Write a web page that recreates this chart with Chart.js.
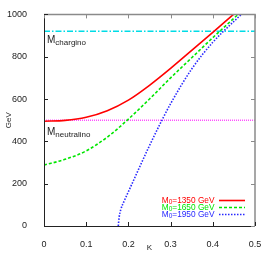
<!DOCTYPE html>
<html>
<head>
<meta charset="utf-8">
<script src="https://cdn.jsdelivr.net/npm/chart.js@4.4.0/dist/chart.umd.min.js"></script>
<style>
  html, body { margin: 0; padding: 0; background: #fff; }
  #wrap { width: 270px; height: 253px; }
</style>
</head>
<body>
<div id="wrap"><canvas id="myChart"></canvas></div>
<script>
// K values and masses (GeV)
var K_1350 = [0, 0.05, 0.1, 0.15, 0.2, 0.25, 0.3, 0.35, 0.4, 0.449];
var M_1350 = [495, 499, 514, 545, 595, 665, 745, 830, 915, 1000];

var K_1650 = [0, 0.05, 0.1, 0.15, 0.2, 0.25, 0.3, 0.35, 0.4, 0.46];
var M_1650 = [288, 315, 355, 420, 505, 600, 700, 795, 890, 1000];

var K_1950 = [0.176, 0.178, 0.182, 0.19, 0.2, 0.22, 0.25, 0.28, 0.3, 0.35, 0.4, 0.45, 0.468];
var M_1950 = [0, 40, 78, 118, 162, 250, 380, 502, 578, 742, 868, 967, 1000];

var M0_VALUES = [1350, 1650, 1950];

var M_CHARGINO = 920;
var M_NEUTRALINO = 500;

var X_TICKS = [0, 0.1, 0.2, 0.3, 0.4, 0.5];
var Y_TICKS = [0, 200, 400, 600, 800, 1000];

var TICK_FONT = "'Liberation Sans Narrow', 'Liberation Sans', Arial, sans-serif";
var TEXT_FONT = "'Liberation Sans', Arial, sans-serif";

function pts(xs, ys) {
    var out = [];
    for (var i = 0; i < xs.length; i++) {
        out.push({x: xs[i], y: ys[i]});
    }
    return out;
}

function flat(v) {
    return [{x: X_TICKS[0], y: v}, {x: X_TICKS[X_TICKS.length - 1], y: v}];
}

// text like M_sub followed by rest, with subscript
function subText(ctx, x, y, sub, rest, size, subSize, drop, color, alignRight) {
    ctx.fillStyle = color;
    ctx.textBaseline = 'alphabetic';
    ctx.textAlign = 'left';
    ctx.font = size + 'px ' + TEXT_FONT;
    var wM = ctx.measureText('M').width;
    var wRest = ctx.measureText(rest).width;
    ctx.font = subSize + 'px ' + TEXT_FONT;
    var wSub = ctx.measureText(sub).width;
    var x0 = alignRight ? x - (wM + wSub + wRest) : x;
    ctx.font = size + 'px ' + TEXT_FONT;
    ctx.fillText('M', x0, y);
    ctx.fillText(rest, x0 + wM + wSub, y);
    ctx.font = subSize + 'px ' + TEXT_FONT;
    ctx.fillText(sub, x0 + wM, y + drop);
}

const framePlugin = {
    id: 'frame',
    afterDraw(chart) {
        const ctx = chart.ctx;
        const a = chart.chartArea;
        const xs = chart.scales.x, ys = chart.scales.y;
        ctx.save();
        // border
        ctx.lineWidth = 1.5;
        ctx.strokeStyle = '#8a8a8a';
        ctx.beginPath();
        ctx.moveTo(a.left, a.top);
        ctx.lineTo(a.right, a.top);
        ctx.lineTo(a.right, a.bottom);
        ctx.stroke();
        ctx.lineWidth = 1;
        ctx.strokeStyle = '#222';
        ctx.beginPath();
        ctx.moveTo(a.left + 0.5, a.top);
        ctx.lineTo(a.left + 0.5, a.bottom + 0.5);
        ctx.lineTo(a.right, a.bottom + 0.5);
        ctx.stroke();

        // inward ticks on all sides
        X_TICKS.forEach(function (t) {
            var px = Math.round(xs.getPixelForValue(t)) + 0.5;
            ctx.strokeStyle = '#222';
            ctx.beginPath(); ctx.moveTo(px, a.bottom); ctx.lineTo(px, a.bottom - 4); ctx.stroke();
            ctx.strokeStyle = '#8a8a8a';
            ctx.beginPath(); ctx.moveTo(px, a.top); ctx.lineTo(px, a.top + 4); ctx.stroke();
        });
        Y_TICKS.forEach(function (t) {
            var py = Math.round(ys.getPixelForValue(t)) + 0.5;
            ctx.strokeStyle = '#222';
            ctx.beginPath(); ctx.moveTo(a.left, py); ctx.lineTo(a.left + 4, py); ctx.stroke();
            ctx.strokeStyle = '#8a8a8a';
            ctx.beginPath(); ctx.moveTo(a.right, py); ctx.lineTo(a.right - 4, py); ctx.stroke();
        });

        // mass labels
        subText(ctx, a.left + 3, ys.getPixelForValue(M_CHARGINO) + 12, 'chargino', '', 10, 8, 2, '#222', false);
        subText(ctx, a.left + 3, ys.getPixelForValue(M_NEUTRALINO) + 15, 'neutralino', '', 10, 8, 2, '#222', false);

        // legend
        var ds = chart.data.datasets;
        for (var i = 0; i < 3; i++) {
            var base = 203 + i * 7;
            subText(ctx, 214.5, base, '0', '=' + M0_VALUES[i] + ' GeV', 8.3, 6.5, 1.2, ds[i].borderColor, true);
            ctx.strokeStyle = ds[i].borderColor;
            ctx.lineWidth = ds[i].borderWidth;
            ctx.setLineDash(ds[i].borderDash || []);
            ctx.beginPath();
            ctx.moveTo(219, base - 2.5);
            ctx.lineTo(245, base - 2.5);
            ctx.stroke();
        }
        ctx.restore();
    }
};

Chart.defaults.font.family = TICK_FONT;
Chart.defaults.font.size = 9;
Chart.defaults.color = '#222';

const ctx = document.getElementById('myChart').getContext('2d');
const myChart = new Chart(ctx, {
    type: 'scatter',
    data: {
        datasets: [{
                label: 'M0=1350 GeV',
                data: pts(K_1350, M_1350),
                borderColor: 'rgb(255, 0, 0)',
                borderWidth: 1.6
            }, {
                label: 'M0=1650 GeV',
                data: pts(K_1650, M_1650),
                borderColor: 'rgb(0, 230, 0)',
                borderWidth: 1.6,
                borderDash: [3, 2]
            }, {
                label: 'M0=1950 GeV',
                data: pts(K_1950, M_1950),
                borderColor: 'rgb(40, 40, 255)',
                borderWidth: 1.6,
                borderDash: [1.5, 1.5]
            }, {
                label: 'neutralino',
                data: flat(M_NEUTRALINO),
                borderColor: 'rgb(255, 80, 255)',
                borderWidth: 1.5,
                borderDash: [1, 1]
            }, {
                label: 'chargino',
                data: flat(M_CHARGINO),
                borderColor: 'rgb(0, 220, 230)',
                borderWidth: 1.5,
                borderDash: [6, 2, 1.5, 2]
            }]
    },
    options: {
        responsive: true,
        maintainAspectRatio: false,
        animation: false,
        showLine: true,
        elements: {
            point: { radius: 0, hoverRadius: 0 },
            line: { cubicInterpolationMode: 'monotone', fill: false }
        },
        layout: { padding: { top: 11, right: 15, left: 0, bottom: 0 } },
        plugins: {
            legend: { display: false },
            tooltip: { enabled: false }
        },
        scales: {
            x: {
                type: 'linear',
                min: 0,
                max: 0.5,
                grid: { display: false },
                border: { display: false },
                ticks: { stepSize: 0.1, padding: 5, maxRotation: 0,
                    callback: function (v) { return String(Math.round(v * 10) / 10); } },
                title: { display: true, text: 'K', font: { family: TEXT_FONT, size: 8 }, padding: 0 },
                afterFit: function (scale) { scale.height = 27; }
            },
            y: {
                min: 0,
                max: 1000,
                grid: { display: false },
                border: { display: false },
                ticks: { stepSize: 200, padding: 9,
                    callback: function (v) { return String(v); } },
                title: { display: true, text: 'GeV', font: { family: TEXT_FONT, size: 8 }, padding: { top: 4, bottom: 0 } },
                afterFit: function (scale) { scale.width = 44; }
            }
        }
    },
    plugins: [framePlugin]
});
</script>
</body>
</html>
